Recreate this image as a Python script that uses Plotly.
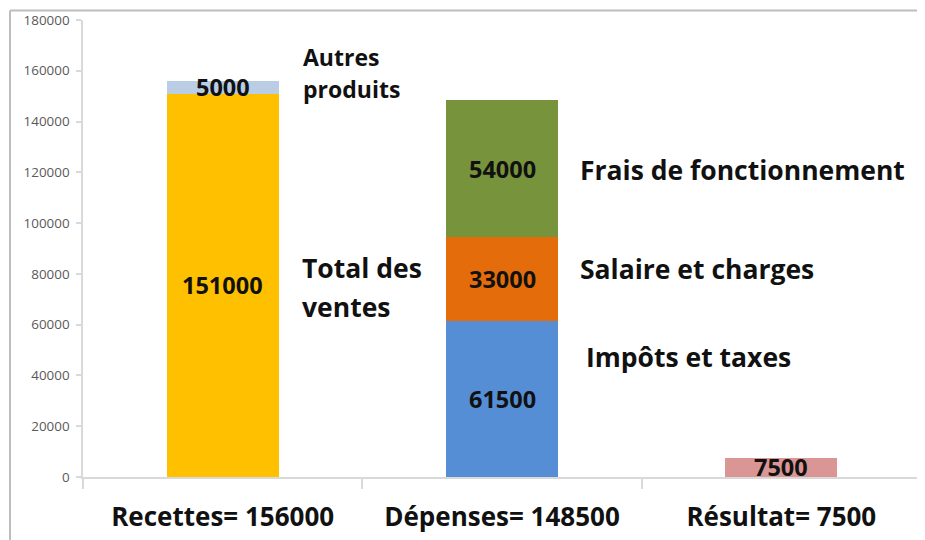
import plotly.graph_objects as go

# ---- data ----
categories = ["Recettes= 156000", "Dépenses= 148500", "Résultat= 7500"]
series_names = ["Total des ventes", "Autres produits", "Impôts et taxes",
                "Salaire et charges", "Frais de fonctionnement", "Résultat"]
series_category = [0, 0, 1, 1, 1, 2]
series_values = [151000, 5000, 61500, 33000, 54000, 7500]
series_colors = ["#FFC000", "#B9CDE5", "#558ED5", "#E46C0A", "#77933C", "#D99694"]
y_ticks = [0, 20000, 40000, 60000, 80000, 100000, 120000, 140000, 160000, 180000]

FONT = "Open Sans"
OFF = 8  # page body margin
FIG_W, FIG_H = 925 - OFF, 540 - OFF

fig = go.Figure()
base = {c: 0 for c in range(len(categories))}
value_annots = []
for name, ci, v, col in zip(series_names, series_category, series_values, series_colors):
    fig.add_trace(go.Bar(
        x=[categories[ci]], y=[v], name=name, width=0.4,
        marker=dict(color=col, line=dict(width=0)),
        hoverinfo="name+y",
    ))
    value_annots.append(dict(
        x=categories[ci], y=base[ci] + v / 2, xref="x", yref="y",
        text=str(v), showarrow=False,
        font=dict(family=FONT, size=23.5, color="#111111", weight="bold"),
    ))
    base[ci] += v

# plot area in reference-screen pixels
L, R, T, B = 83, 921, 20, 477
W, H = R - L, B - T


def px(x):
    return (x - L) / W


def py(y):
    return (B - y) / H


label_lines = [
    ("Autres", 301, 57, 23),
    ("produits", 301, 89, 23),
    ("Total des", 300, 268, 26.5),
    ("ventes", 300, 307, 26.5),
    ("Frais de fonctionnement", 578, 170, 26.5),
    ("Salaire et charges", 578, 269, 26.5),
    ("Impôts et taxes", 584, 357, 26.5),
]
name_annots = [
    dict(x=px(x), y=py(y), xref="paper", yref="paper", text=t, showarrow=False,
         xanchor="left", yanchor="middle",
         font=dict(family=FONT, size=s, color="#111111", weight="bold"))
    for t, x, y, s in label_lines
]

fig.update_layout(
    barmode="stack",
    width=FIG_W, height=FIG_H,
    margin=dict(l=L - OFF, r=925 - R, t=T - OFF, b=540 - B),
    paper_bgcolor="white", plot_bgcolor="white",
    showlegend=False,
    annotations=value_annots + name_annots,
    shapes=[
        dict(type="line", xref="paper", yref="paper",
             x0=px(10), x1=px(930), y0=py(10.5), y1=py(10.5),
             line=dict(color="#BDBDBD", width=2)),
        dict(type="line", xref="paper", yref="paper",
             x0=px(10), x1=px(10), y0=py(10.5), y1=py(545),
             line=dict(color="#BDBDBD", width=2)),
    ],
    xaxis=dict(
        type="category", categoryorder="array", categoryarray=categories,
        showline=True, linecolor="#D9D9D9", linewidth=1.5,
        ticks="outside", tickson="boundaries", ticklen=10, tickcolor="#D9D9D9", tickwidth=1.5,
        tickfont=dict(family=FONT, size=26, color="#111111", weight="bold"),
        showgrid=False, ticklabelstandoff=16,
    ),
    yaxis=dict(
        range=[0, 180000], tickvals=y_ticks, ticktext=[str(v) for v in y_ticks],
        showline=True, linecolor="#D9D9D9", linewidth=1.5,
        ticks="outside", ticklen=5, tickcolor="#D9D9D9", tickwidth=1.5,
        tickfont=dict(family=FONT, size=13.4, color="#595959"),
        showgrid=False, zeroline=False, ticklabelstandoff=4,
    ),
)

fig.write_html("out.html")
